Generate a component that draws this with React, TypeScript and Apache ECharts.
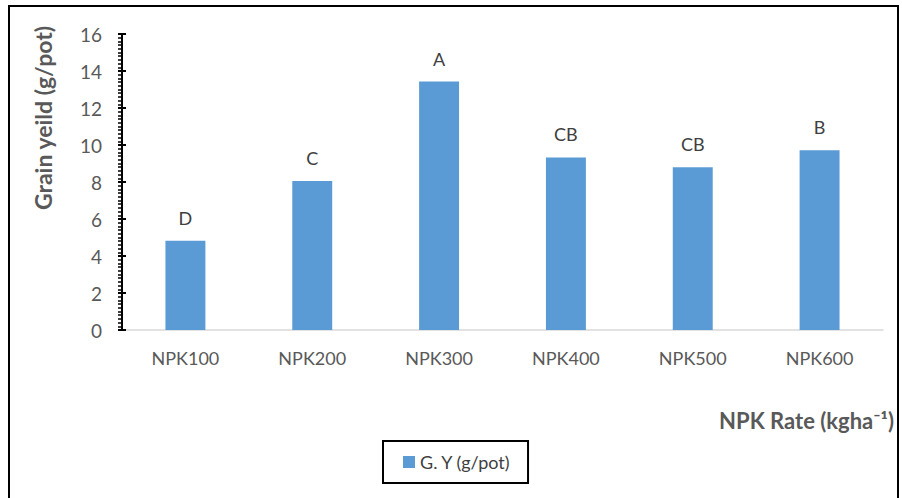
import React, { useEffect, useRef } from "react";
import * as echarts from "echarts";

const categories = ["NPK100", "NPK200", "NPK300", "NPK400", "NPK500", "NPK600"];
const yieldValues = [4.83, 8.05, 13.43, 9.33, 8.8, 9.72];
const letterLabels = ["D", "C", "A", "CB", "CB", "B"];
const seriesName = "G. Y (g/pot)";
const yTitle = "Grain yeild (g/pot)";
const xTitle = "NPK Rate (kgha\u207B\u00B9)";

const FONT = "Lato, 'Open Sans', sans-serif";

export default function App() {
  const ref = useRef<HTMLDivElement>(null);
  useEffect(() => {
    if (!ref.current) return;
    const chart = echarts.init(ref.current, null, { renderer: "svg" });
    const grid = { left: 122, right: 19, top: 34, bottom: 168 };
    chart.setOption({
      animation: false,
      backgroundColor: "#ffffff",
      textStyle: { fontFamily: FONT },
      grid,
      legend: {
        data: [seriesName],
        left: 383,
        top: 441,
        itemWidth: 12,
        itemHeight: 12,
        itemGap: 5,
        icon: "rect",
        borderColor: "#000000",
        borderWidth: 2,
        padding: [12, 17, 12, 20],
        textStyle: { fontFamily: FONT, fontSize: 18, color: "#404040" },
      },
      xAxis: {
        type: "category",
        data: categories,
        axisLine: { show: true, lineStyle: { color: "#d9d9d9", width: 1.5 } },
        axisTick: { show: false },
        axisLabel: { fontFamily: FONT, fontSize: 18, color: "#595959", margin: 19 },
        splitLine: { show: false },
      },
      yAxis: [
        {
          type: "value",
          min: 0,
          max: 16,
          interval: 2,
          axisLine: { show: true, lineStyle: { color: "#000000", width: 2 } },
          axisTick: { show: true, length: 4, lineStyle: { color: "#000000", width: 2 } },
          minorTick: { show: true, splitNumber: 10, length: 4, lineStyle: { color: "#000000", width: 1.5 } },
          axisLabel: { fontFamily: FONT, fontSize: 19, color: "#595959", margin: 20 },
          splitLine: { show: false },
        },
        {
          type: "value",
          min: 0,
          max: 16,
          interval: 2,
          position: "left",
          axisLine: { show: false },
          axisTick: { show: true, inside: true, length: 4, lineStyle: { color: "#000000", width: 2 } },
          axisLabel: { show: false },
          splitLine: { show: false },
        },
      ],
      series: [
        {
          name: seriesName,
          type: "bar",
          data: yieldValues,
          barWidth: "31.5%",
          itemStyle: { color: "#5b9bd5" },
          label: {
            show: true,
            position: "top",
            distance: 14,
            fontFamily: FONT,
            fontSize: 18,
            color: "#404040",
            formatter: (p: any) => letterLabels[p.dataIndex],
          },
        },
      ],
      graphic: [
        {
          type: "rect",
          shape: { x: 9, y: 6, width: 889, height: 500 },
          style: { fill: "none", stroke: "#000000", lineWidth: 2 },
          silent: true,
        },
        {
          type: "text",
          x: 43,
          y: 118,
          rotation: Math.PI / 2,
          style: {
            text: yTitle,
            fontFamily: FONT,
            fontSize: 23,
            fontWeight: "bold",
            fill: "#595959",
            align: "center",
            verticalAlign: "middle",
          },
          originX: 0,
          originY: 0,
        },
        {
          type: "text",
          x: 894,
          y: 420,
          style: {
            text: xTitle,
            fontFamily: FONT,
            fontSize: 22,
            fontWeight: "bold",
            fill: "#595959",
            align: "right",
            verticalAlign: "middle",
          },
        },
      ],
    });
    return () => chart.dispose();
  }, []);
  return (
    <div
      ref={ref}
      style={{ position: "fixed", left: 0, top: 0, width: 902, height: 498 }}
    />
  );
}
